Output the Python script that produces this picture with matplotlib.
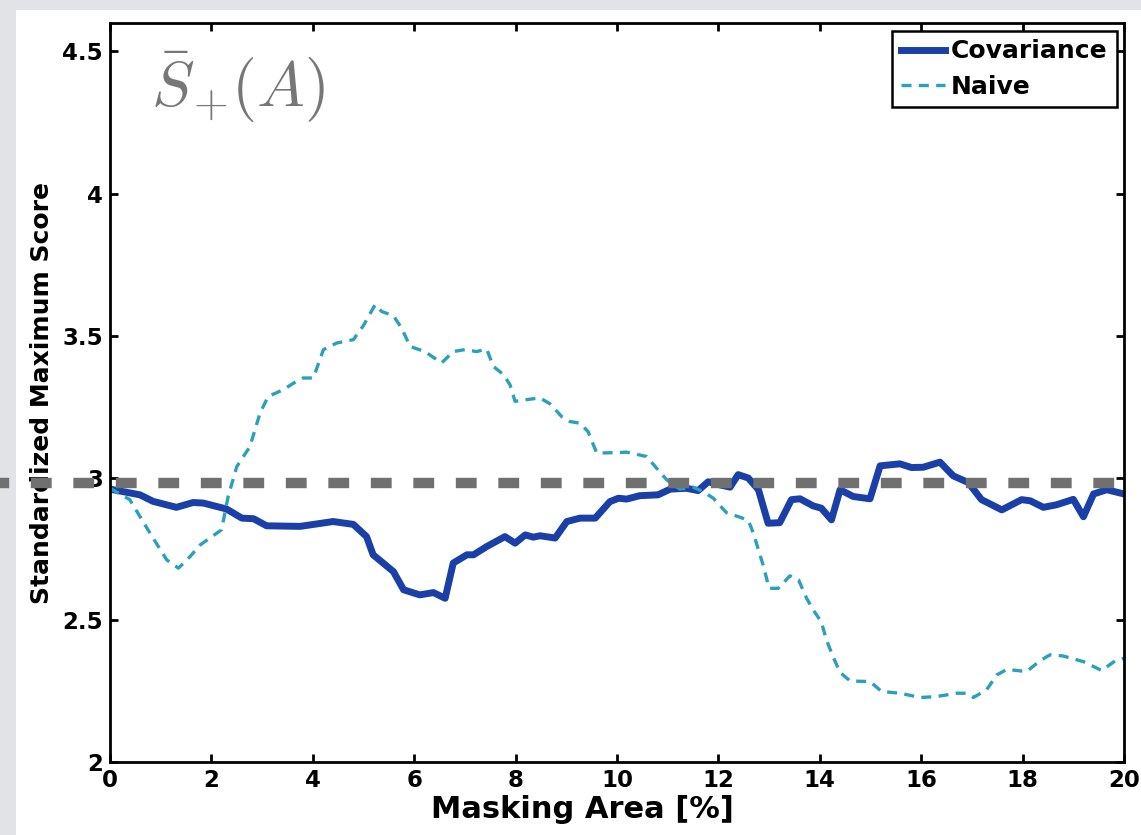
import matplotlib
matplotlib.use("Agg")
import matplotlib.pyplot as plt
import matplotlib.transforms as mtransforms
from matplotlib.patches import Rectangle

# masking area [%] and standardized maximum score
cov_x = [0, 0.59, 0.85, 1.31, 1.64, 1.84, 2.30, 2.60, 2.83, 3.09,
         3.75, 4.40, 4.80, 5.06, 5.19, 5.59, 5.79, 6.11, 6.38, 6.61,
         6.77, 7.04, 7.17, 7.43, 7.79, 7.99, 8.19, 8.35, 8.48, 8.78,
         9.01, 9.27, 9.57, 9.86, 10.03, 10.19, 10.45, 10.81, 11.05, 11.37,
         11.60, 11.80, 12.03, 12.23, 12.39, 12.59, 12.79, 12.98, 13.21, 13.44,
         13.61, 13.87, 14.03, 14.23, 14.40, 14.66, 14.99, 15.19, 15.58, 15.81,
         16.04, 16.37, 16.63, 16.93, 17.19, 17.59, 17.98, 18.15, 18.41, 18.67,
         19.00, 19.20, 19.40, 19.66, 20.0]
cov_y = [2.960, 2.940, 2.917, 2.896, 2.913, 2.911, 2.890, 2.858, 2.856, 2.831,
         2.829, 2.846, 2.836, 2.793, 2.729, 2.670, 2.606, 2.588, 2.596, 2.576,
         2.700, 2.729, 2.729, 2.758, 2.793, 2.770, 2.799, 2.791, 2.796, 2.788,
         2.846, 2.858, 2.858, 2.916, 2.928, 2.925, 2.937, 2.940, 2.960, 2.963,
         2.955, 2.986, 2.975, 2.967, 3.011, 2.999, 2.958, 2.840, 2.842, 2.923,
         2.926, 2.901, 2.893, 2.852, 2.958, 2.934, 2.926, 3.042, 3.049, 3.036,
         3.037, 3.055, 3.007, 2.983, 2.923, 2.887, 2.923, 2.919, 2.896, 2.905,
         2.924, 2.863, 2.943, 2.958, 2.943]

naive_x = [0, 0.39, 0.79, 1.12, 1.35, 1.58, 1.78, 2.20, 2.33, 2.50,
           2.76, 2.96, 3.12, 3.42, 3.62, 3.81, 4.01, 4.21, 4.47, 4.80,
           5.00, 5.23, 5.36, 5.59, 5.75, 5.92, 6.21, 6.54, 6.77, 7.00,
           7.23, 7.43, 7.56, 7.76, 7.89, 7.99, 8.22, 8.48, 8.68, 8.91,
           9.07, 9.27, 9.43, 9.60, 9.86, 10.19, 10.58, 10.78, 10.98, 11.24,
           11.50, 11.70, 11.90, 12.16, 12.43, 12.59, 12.69, 12.89, 13.00, 13.18,
           13.41, 13.58, 13.74, 13.87, 14.03, 14.13, 14.26, 14.40, 14.60, 14.99,
           15.22, 15.58, 15.98, 16.30, 16.70, 16.90, 17.03, 17.29, 17.49, 17.69,
           18.08, 18.34, 18.54, 18.80, 19.20, 19.56, 19.85, 20.0]
naive_y = [2.963, 2.923, 2.805, 2.711, 2.682, 2.723, 2.764, 2.817, 2.934, 3.039,
           3.110, 3.228, 3.286, 3.310, 3.333, 3.351, 3.351, 3.451, 3.474, 3.486,
           3.536, 3.609, 3.585, 3.570, 3.527, 3.462, 3.444, 3.404, 3.444, 3.451,
           3.444, 3.453, 3.392, 3.363, 3.327, 3.269, 3.275, 3.281, 3.260, 3.215,
           3.198, 3.192, 3.162, 3.087, 3.088, 3.090, 3.075, 3.034, 2.993, 2.960,
           2.967, 2.951, 2.928, 2.877, 2.861, 2.850, 2.805, 2.688, 2.611, 2.611,
           2.655, 2.641, 2.576, 2.535, 2.493, 2.430, 2.371, 2.315, 2.285, 2.283,
           2.248, 2.242, 2.227, 2.230, 2.242, 2.242, 2.227, 2.254, 2.306, 2.326,
           2.318, 2.356, 2.377, 2.373, 2.353, 2.322, 2.359, 2.365]

threshold = 2.982
xticks = [0, 2, 4, 6, 8, 10, 12, 14, 16, 18, 20]
yticks = [2, 2.5, 3, 3.5, 4, 4.5]
ytick_labels = ["2", "2.5", "3", "3.5", "4", "4.5"]

plt.rcParams['font.family'] = ['DejaVu Sans']
plt.rcParams['font.weight'] = 'bold'
plt.rcParams['mathtext.fontset'] = 'cm'

W, H = 1141, 835
fig = plt.figure(figsize=(W / 100, H / 100), dpi=100, facecolor='#e2e3e6')
# white "page" with grey border on top and left
fig.patches.append(Rectangle((16 / W, 0), 1, (H - 10) / H, transform=fig.transFigure,
                             facecolor='white', edgecolor='none', zorder=-10))

ax = fig.add_axes([110 / W, (H - 762) / H, (1124 - 110) / W, (762 - 23) / H])
ax.set_facecolor('white')

ax.plot(cov_x, cov_y, color='#1a40a8', lw=5, solid_joinstyle='round',
        label='Covariance', zorder=2)
ax.plot(naive_x, naive_y, color='#2aa0bd', lw=2.4, linestyle=(0, (3.0, 2.2)),
        label='Naive', zorder=2)

# grey threshold line runs out past the left edge of the axes
blend = mtransforms.blended_transform_factory(fig.transFigure, ax.transData)
ax.plot([0, 1122 / W], [threshold, threshold], color='#707070', lw=7.5,
        linestyle=(1.12, (2.0, 2.08)), transform=blend, clip_on=False, zorder=3)

ax.set_xlim(0, 20)
ax.set_ylim(2, 4.6)
ax.set_xticks(xticks)
ax.set_yticks(yticks)
ax.set_yticklabels(ytick_labels)
ax.tick_params(direction='in', length=6, width=2, labelsize=16.5, pad=5,
               top=True, right=True)
for s in ax.spines.values():
    s.set_linewidth(2)

ax.set_xlabel('Masking Area [%]', fontsize=22, fontweight='bold')
ax.xaxis.set_label_coords(0.466, -0.045, transform=ax.transAxes)
ax.xaxis.label.set_va('top')
ax.set_ylabel('Standardized Maximum Score', fontsize=18, fontweight='bold', labelpad=6)

ax.text(0.8, 4.306, r'$\bar{S}_{+}(A)$', fontsize=46, color='#777777',
        ha='left', va='baseline')

leg = ax.legend(loc='upper right', fontsize=18, frameon=True, fancybox=False,
                framealpha=1, edgecolor='black', handlelength=1.75,
                handletextpad=0.25, labelspacing=0.45, borderpad=0.35,
                borderaxespad=0.3)
leg.get_frame().set_linewidth(1.8)
for t in leg.get_texts():
    t.set_fontweight('bold')

fig.savefig('out.png', dpi=100, facecolor=fig.get_facecolor())
